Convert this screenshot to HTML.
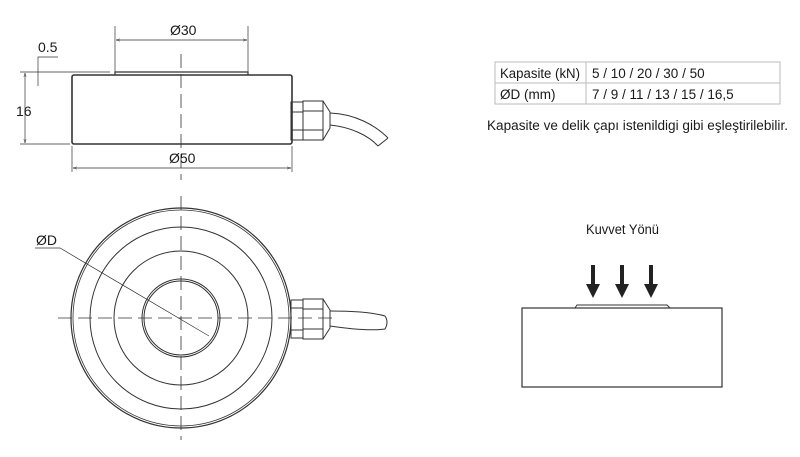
<!DOCTYPE html>
<html><head><meta charset="utf-8"><style>
html,body{margin:0;padding:0;background:#fff;}
svg{display:block;}
text{font-family:"Liberation Sans",sans-serif;fill:#1a1a1a;}
</style></head><body>
<svg width="800" height="457" viewBox="0 0 800 457" xmlns="http://www.w3.org/2000/svg">
<defs>
<marker id="a" viewBox="0 0 10 10" refX="10" refY="5" markerWidth="6" markerHeight="6" orient="auto-start-reverse"><path d="M0,2 L10,5 L0,8" fill="none" stroke="#333" stroke-width="1"/></marker>
</defs>
<g stroke="#333" fill="none" stroke-width="1">
<rect x="72" y="75" width="220" height="69" rx="2" stroke-width="1.6"/>
<path d="M115 75 V72 H248 V75" stroke-width="1.2"/>
<line x1="181" y1="54" x2="181" y2="180" stroke-dasharray="14,6" stroke-width="0.8"/>
<line x1="115" y1="72" x2="115" y2="26" stroke-width="0.7"/>
<line x1="248" y1="72" x2="248" y2="26" stroke-width="0.7"/>
<line x1="116" y1="40" x2="247" y2="40" stroke-width="0.7" marker-start="url(#a)" marker-end="url(#a)"/>
<line x1="72" y1="146" x2="72" y2="172" stroke-width="0.7"/>
<line x1="292" y1="146" x2="292" y2="172" stroke-width="0.7"/>
<line x1="73" y1="168" x2="291" y2="168" stroke-width="0.7" marker-start="url(#a)" marker-end="url(#a)"/>
<line x1="20" y1="72" x2="110" y2="72" stroke-width="0.7"/>
<line x1="20" y1="144" x2="70" y2="144" stroke-width="0.7"/>
<line x1="25" y1="73" x2="25" y2="143" stroke-width="0.7" marker-start="url(#a)" marker-end="url(#a)"/>
<path d="M38 86 V57 H58" stroke-width="0.7"/>
<rect x="291" y="102" width="12" height="38"/>
<rect x="303" y="101" width="20" height="39"/>
<line x1="291" y1="112" x2="303" y2="112"/><line x1="291" y1="130" x2="303" y2="130"/>
<line x1="303" y1="111" x2="323" y2="111"/><line x1="303" y1="130" x2="323" y2="130"/>
<path d="M323 101 L330 112 V128 L323 140"/>
<path d="M330 113 C355 114 375 125 388 138 M330 125 C350 127 368 135 378 146 M378 146 L388 138"/>
<line x1="181" y1="196" x2="181" y2="440" stroke-dasharray="14,6" stroke-width="0.8"/>
<line x1="58" y1="318" x2="338" y2="318" stroke-dasharray="14,6" stroke-width="0.8"/>
<circle cx="181" cy="318" r="110" stroke-width="1.2"/>
<circle cx="181" cy="318" r="108" stroke-width="0.8"/>
<circle cx="181" cy="318" r="91"/>
<circle cx="181" cy="318" r="67"/>
<circle cx="181" cy="318" r="39"/>
<circle cx="181" cy="318" r="37"/>
<path d="M35 248 H60 L209 336" stroke-width="0.7"/>
<rect x="291" y="300" width="12" height="38"/>
<rect x="303" y="299" width="20" height="40"/>
<line x1="291" y1="308" x2="303" y2="308"/><line x1="291" y1="330" x2="303" y2="330"/>
<line x1="303" y1="309" x2="323" y2="309"/><line x1="303" y1="329" x2="323" y2="329"/>
<path d="M323 299 L330 310 V328 L323 339"/>
<path d="M330 311 C355 311 375 313 385 316 Q389 322 385 329 C370 331 350 329 330 326"/>
<rect x="522" y="308" width="200" height="79" stroke-width="1.2"/>
<path d="M575 308 L577 305 H667 L670 308" stroke-width="1"/>
<g stroke="#bbb" stroke-width="1">
<rect x="495" y="62" width="285" height="42"/>
<line x1="495" y1="83" x2="780" y2="83"/>
<line x1="586" y1="62" x2="586" y2="104"/>
</g>
</g>
<g fill="#222">
<rect x="591" y="265" width="4" height="20"/><path d="M586 284 H600 L593 298Z"/>
<rect x="620" y="265" width="4" height="20"/><path d="M615 284 H629 L622 298Z"/>
<rect x="649" y="265" width="4" height="20"/><path d="M644 284 H658 L651 298Z"/>
</g>
<g font-size="14">
<text x="170" y="35">Ø30</text>
<text x="38" y="52">0.5</text>
<text x="16" y="116">16</text>
<text x="169" y="163">Ø50</text>
<text x="36" y="245">ØD</text>
</g>
<g font-size="13.5">
<text x="500" y="78" textLength="80" lengthAdjust="spacingAndGlyphs">Kapasite (kN)</text>
<text x="592" y="78">5 / 10 / 20 / 30 / 50</text>
<text x="500" y="99">ØD (mm)</text>
<text x="592" y="99">7 / 9 / 11 / 13 / 15 / 16,5</text>
<text x="487" y="130" textLength="301" lengthAdjust="spacingAndGlyphs">Kapasite ve delik çapı istenildigi gibi eşleştirilebilir.</text>
<text x="586" y="234" textLength="73" lengthAdjust="spacingAndGlyphs">Kuvvet Yönü</text>
</g>
</svg>
</body></html>
